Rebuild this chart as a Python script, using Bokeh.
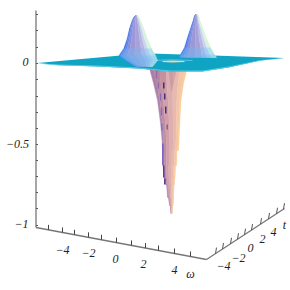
from bokeh.plotting import figure
from bokeh.embed import file_html
from bokeh.resources import INLINE
from bokeh.core.properties import value

# Picture-read outlines and axes (x to the right, y downward, in the reference's frame)
z_tick_y = [14, 30, 47, 63, 79, 96, 112, 128, 144, 160, 176, 192, 208, 225]
omega_tick_x = [48, 62, 74, 88, 101, 116, 131, 145, 158, 174, 190]
t_tick_x = [215, 222, 230, 237, 244, 251, 260, 268, 276, 283]

z_labels = ["0", "\u22120.5", "\u22121"]
z_label_x = [25, 17, 21]
z_label_y = [61, 143, 223]
omega_labels = ["\u22124", "\u22122", "0", "2", "4", "\u03c9"]
omega_label_x = [62, 88, 115, 143, 174, 190]
omega_label_y = [249, 252, 258, 263, 269, 273]
t_labels = ["\u22124", "\u22122", "0", "2", "4", "t"]
t_label_x = [223, 238, 250, 262, 273, 284]
t_label_y = [265, 257, 247, 238, 231, 224]

sheet_x = [37, 120, 150, 213, 284, 260, 228, 202, 170, 137, 97, 58]
sheet_y = [62.5, 55, 53, 55, 57.5, 60, 67, 71, 71, 68, 66, 64.5]
sheet_rim_x = [37, 58, 97, 137, 170, 202, 228, 260, 284, 260, 228, 202, 170, 137, 97, 58]
sheet_rim_y = [63, 65, 66, 68, 71, 71, 67, 60, 58, 59.5, 66, 70, 70, 67, 65, 64]
slit_x = [162, 172, 184, 184, 172, 162]
slit_y = [60.5, 60, 60.5, 61.5, 62, 61.5]
slit_edge_x = [152, 170, 192]
slit_edge_y = [60, 59.3, 60]

peak1_y = [15, 16.5, 20, 28, 38, 48, 55, 60, 66]
peak1_left = [135, 133.5, 131.7, 129, 126.7, 123.3, 118.5, 125, 135]
peak1_right = [137, 138, 140, 143.3, 146.7, 151, 155, 157, 152]
peak2_y = [14, 15.5, 20, 28, 38, 47, 54, 57]
peak2_left = [195, 194, 192.7, 190, 186.7, 184, 180, 178]
peak2_right = [197, 198, 199.3, 202.3, 206, 210, 214, 216]
peak_fracs = [0, 0.05, 0.12, 0.22, 0.42, 0.62, 0.75, 0.86, 0.94, 1.0]
peak_colors = ["#3F6FEA", "#6484E6", "#8290DE", "#9C98D8", "#A8A2DA", "#B8B6E4", "#C9D2EE", "#DCEEEE", "#D4F5D0"]
glow_rows = [44, 52, 66]
glow_fill = "#62C0FA"

valley_y = [66, 83, 100, 123, 140, 150, 150, 165, 165, 178, 178, 184, 184, 197, 197, 205, 205, 213]
valley_left = [148.5, 153, 157, 160, 161.5, 162, 162, 162.5, 162.5, 163.5, 164.5, 165, 166, 167, 168, 169, 170, 170.5]
valley_right = [187, 183, 180.5, 179.3, 178.5, 178, 176.5, 176, 175, 174.5, 174, 174, 173.5, 173, 173, 172.5, 172, 171.5]
valley_fracs = [0, 0.1, 0.25, 0.45, 0.65, 0.82, 0.95, 1.0]
valley_colors = ["#AD86B0", "#BE8EA4", "#D29EA8", "#DDAEAE", "#E8B9AE", "#F3C6A8", "#FBCB96"]
wedge_x = [150, 160, 157, 158, 166, 163, 168, 176, 171]
wedge_y = [70, 70, 95, 70, 70, 100, 70, 70, 92]
wedge_fill = "#A8708C"

dash_x = [156, 158, 160, 161, 161.5, 163.3, 164.3, 165.3, 166.7, 162.3, 163.3, 164.3]
dash_top = [70, 82, 93, 107, 123, 82, 93, 106, 124, 143, 165, 178]
dash_bottom = [78, 88, 100, 115, 130, 88, 99, 113, 129, 165, 177, 184]
dash_color = ["#8A6AB0", "#8A6AB0", "#8A6AB0", "#8A6AB0", "#8A6AB0", "#1E1A70", "#1E1A70", "#1E1A70",
              "#6A5A70", "#6A50C0", "#3A2090", "#2A1080"]


def bands(left, right, rows, fracs, colors, p):
    """Fill an outline with vertical-ish colour bands between its left and right edges."""
    for i in range(len(fracs) - 1):
        f0, f1 = fracs[i], fracs[i + 1]
        xa = [l + f0 * (r - l) for l, r in zip(left, right)]
        xb = [l + f1 * (r - l) for l, r in zip(left, right)]
        p.patch(xa + xb[::-1], rows + rows[::-1], fill_color=colors[i], line_color=colors[i], line_width=0.4)


def glow(left, right, rows, p):
    """Lighten the foot of a peak, stronger toward the sheet."""
    for start in glow_rows[:2]:
        idx = [i for i, r in enumerate(rows) if r >= start]
        xs = [left[i] for i in idx] + [right[i] for i in idx[::-1]]
        ys = [rows[i] for i in idx] + [rows[i] for i in idx[::-1]]
        p.patch(xs, ys, fill_color=glow_fill, fill_alpha=0.3, line_color=None)


p = figure(width=290, height=290, x_range=(0, 290), y_range=(290, 0), toolbar_location=None,
           output_backend="svg", min_border=0, border_fill_color="white")
p.xaxis.visible = False
p.yaxis.visible = False
p.grid.visible = False
p.outline_line_color = None

# valley below the sheet
bands(valley_left, valley_right, valley_y, valley_fracs, valley_colors, p)
for i in range(0, len(wedge_x), 3):
    p.patch(wedge_x[i:i + 3], wedge_y[i:i + 3], fill_color=wedge_fill, fill_alpha=0.3, line_color=None)
p.segment(dash_x, dash_top, dash_x, dash_bottom, line_color=dash_color, line_width=1.2)

# back peak stands behind the front of the sheet
p.patch(sheet_x, sheet_y, fill_color="#10A4C4", line_color=None)
bands(peak2_left, peak2_right, peak2_y, peak_fracs, peak_colors, p)
glow(peak2_left, peak2_right, peak2_y, p)
p.patch(sheet_rim_x, sheet_rim_y, fill_color="#55CBE0", line_color=None)
p.line(slit_edge_x, slit_edge_y, line_color="#5CC0EA", line_width=1)
p.patch(slit_x, slit_y, fill_color="#F2D2A8", line_color=None)

# front peak
bands(peak1_left, peak1_right, peak1_y, peak_fracs, peak_colors, p)
glow(peak1_left, peak1_right, peak1_y, p)

# axes
axis_color = "#777777"
p.line([35.5, 35.5], [10, 227], line_color=axis_color, line_width=1.3)
p.segment([35.5] * len(z_tick_y), z_tick_y, [37.5] * len(z_tick_y), z_tick_y, line_color="#555555", line_width=1)

p.line([35.5, 206], [227, 259], line_color=axis_color, line_width=1.3)
om_base = [227 + (x - 35.5) * (259 - 227) / (206 - 35.5) for x in omega_tick_x]
p.segment(omega_tick_x, om_base, omega_tick_x, [b - 5 for b in om_base], line_color="#444444", line_width=1)

p.line([206, 284], [259, 208], line_color=axis_color, line_width=1.3)
t_base = [259 + (x - 206) * (208 - 259) / (284 - 206) for x in t_tick_x]
p.segment(t_tick_x, t_base, [x + 1 for x in t_tick_x], [b - 6 for b in t_base], line_color="#555555", line_width=1)

font = dict(text_font=value("Liberation Serif"), text_font_style="italic", text_font_size="12px",
            text_color="#222222", text_align="center", text_baseline="middle")
p.text(z_label_x, z_label_y, text=z_labels, **font)
p.text(omega_label_x, omega_label_y, text=omega_labels, **font)
p.text(t_label_x, t_label_y, text=t_labels, **font)

open("out.html", "w").write(file_html(p, INLINE))
